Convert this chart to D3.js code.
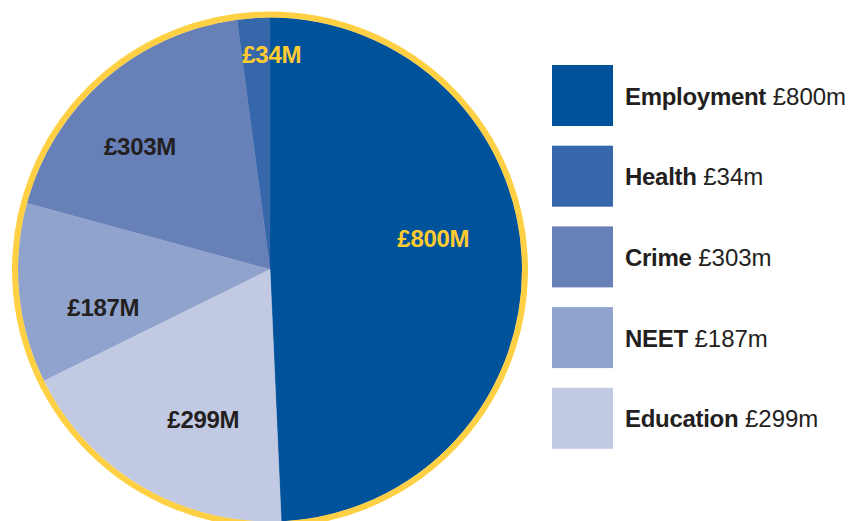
<!DOCTYPE html>
<html>
<head>
<meta charset="utf-8">
<script src="https://cdn.jsdelivr.net/npm/d3@7"></script>
<style>
  html, body { margin: 0; padding: 0; background: #ffffff; }
  svg { display: block; }
  text { font-family: "Liberation Sans", Arial, Helvetica, sans-serif; }
</style>
</head>
<body>
<svg id="chart" width="861" height="521"></svg>
<script>
// ---- data ----
const categories = ["Employment", "Health", "Crime", "NEET", "Education"];
const values = [800, 34, 303, 187, 299];
const sliceLabels = ["£800M", "£34M", "£303M", "£187M", "£299M"];
const legendValues = ["£800m", "£34m", "£303m", "£187m", "£299m"];
// clockwise drawing order of slices starting at 12 o'clock
const sliceOrder = ["Employment", "Education", "NEET", "Crime", "Health"];

// ---- styles / layout ----
const colors = ["#00529B", "#3767AB", "#6780B8", "#90A3CD", "#C2CAE3"];
const labelColors = ["#FFCB2F", "#FFCB2F", "#231F20", "#231F20", "#231F20"];
const ringColor = "#FFD043";
const cx = 270, cy = 269.5, R = 252, ringW = 6;
// label anchor offsets from pie centre (text centre, baseline)
const labelOffset = {
  "Employment": [163.3, -22.8],
  "Health": [1.7, -206.2],
  "Crime": [-130, -114.5],
  "NEET": [-166.7, 46.2],
  "Education": [-66.7, 158.8]
};

const data = categories.map((c, i) => ({
  name: c, value: values[i], label: sliceLabels[i], legend: legendValues[i],
  color: colors[i], labelColor: labelColors[i]
}));

const svg = d3.select("#chart");

const pie = d3.pie()
  .value(d => d.value)
  .sort((a, b) => sliceOrder.indexOf(a.name) - sliceOrder.indexOf(b.name));
const arc = d3.arc().innerRadius(0).outerRadius(R);

const g = svg.append("g").attr("transform", `translate(${cx},${cy})`);

g.selectAll("path.slice")
  .data(pie(data))
  .join("path")
  .attr("class", "slice")
  .attr("d", arc)
  .attr("fill", d => d.data.color)
  .attr("stroke", d => d.data.color)
  .attr("stroke-width", 0.5);

// yellow rim
g.append("circle")
  .attr("r", R + ringW / 2)
  .attr("fill", "none")
  .attr("stroke", ringColor)
  .attr("stroke-width", ringW);

// slice labels
g.selectAll("text.lbl")
  .data(data)
  .join("text")
  .attr("class", "lbl")
  .attr("x", d => labelOffset[d.name][0])
  .attr("y", d => labelOffset[d.name][1])
  .attr("text-anchor", "middle")
  .attr("font-size", 24)
  .attr("font-weight", "bold")
  .attr("letter-spacing", "-0.3")
  .attr("fill", d => d.labelColor)
  .text(d => d.label);

// legend
const legendX = 552, legendY0 = 65, legendStep = 80.7, sw = 61;
const leg = svg.append("g");
const items = leg.selectAll("g.item")
  .data(data)
  .join("g")
  .attr("class", "item")
  .attr("transform", (d, i) => `translate(${legendX},${legendY0 + i * legendStep})`);

items.append("rect")
  .attr("width", sw)
  .attr("height", sw)
  .attr("fill", d => d.color);

const t = items.append("text")
  .attr("x", 73)
  .attr("y", sw / 2 + 9)
  .attr("font-size", 24)
  .attr("fill", "#231F20");
t.append("tspan")
  .attr("font-weight", "bold")
  .attr("letter-spacing", "-0.3")
  .text(d => d.name);
t.append("tspan")
  .attr("font-weight", "normal")
  .text(d => " " + d.legend);
</script>
</body>
</html>
